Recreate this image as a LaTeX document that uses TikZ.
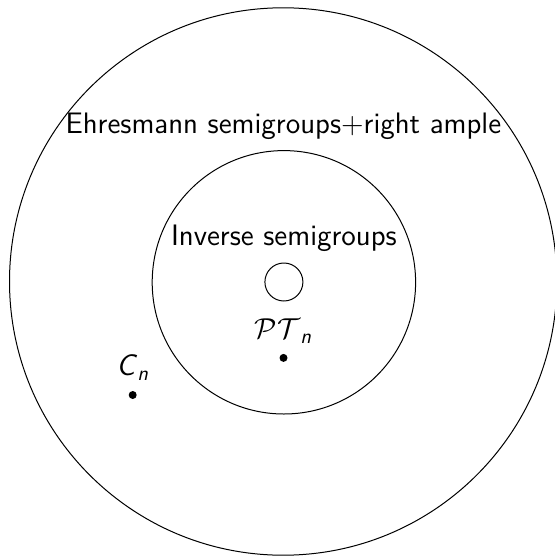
\documentclass[tikz,border=0pt]{standalone}
\usepackage{amsmath}
\usepackage{tikz}
\usetikzlibrary{positioning}

\newcommand{\sfit}[1]{\textsf{\textit{#1}}}

\begin{document}
\begin{tikzpicture}[x=0.5pt, y=-0.5pt,
        region/.style={draw, black, line width=0.5pt},
        setname/.style={font=\fontsize{14.8}{18}\selectfont\sffamily, inner sep=0pt},
        elem/.style={circle, fill=black, inner sep=0pt, minimum size=4pt},
        elemname/.style={font=\fontsize{14.8}{18}\selectfont\sffamily, inner sep=0pt}]
        \useasboundingbox (0,0) rectangle (555,556);

        % nested classes
        \draw [region] (283.2,281.5) circle [radius=273.7];
        \draw [region] (283.9,282.3) circle [radius=131.7];
        \draw [region] (283.9,282.0) circle [radius=19];

        \node [setname] (ehr) at (283.4,126) {Ehresmann semigroups+right ample};
        \node [setname] (inv) at (283.9,238) {Inverse semigroups};

        % examples
        \node [elem] (pt) at (283.5,357.9) {};
        \node [elem] (cn) at (132.7,395) {};
        \node [elemname, above=5pt of pt] (ptname) {$\mathcal{PT}_{\sfit{n}}$};
        \node [elemname, above=5pt of cn] (cnname) {\sfit{C}$_{\sfit{n}}$};
    \end{tikzpicture}
\end{document}
